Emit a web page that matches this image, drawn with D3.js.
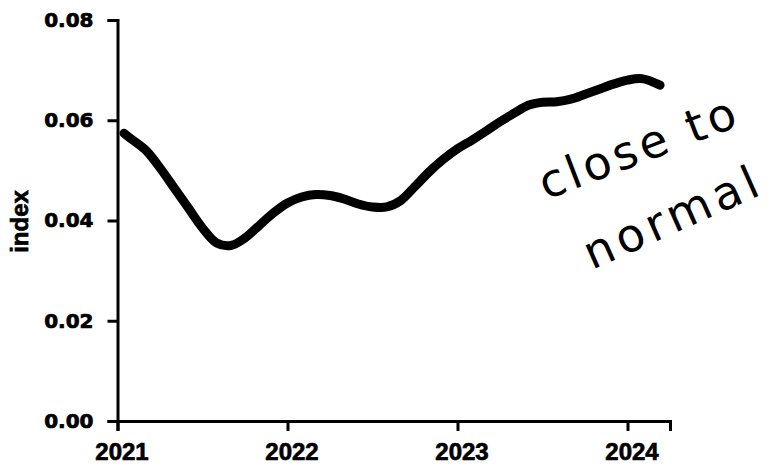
<!DOCTYPE html>
<html>
<head>
<meta charset="utf-8">
<script src="https://cdn.jsdelivr.net/npm/d3@7"></script>
<style>
  html, body { margin: 0; padding: 0; background: #fff; }
  svg { display: block; }
</style>
</head>
<body>
<svg id="chart" width="775" height="467"></svg>
<script>
// ---- data ----
const dates = [
  "2021-01-15","2021-02-01","2021-03-01","2021-04-01","2021-05-01","2021-06-01","2021-07-01","2021-08-01","2021-09-01","2021-10-01","2021-11-01","2021-12-01",
  "2022-01-01","2022-02-01","2022-03-01","2022-04-01","2022-05-01","2022-06-01","2022-07-01","2022-08-01","2022-09-01","2022-10-01","2022-11-01","2022-12-01",
  "2023-01-01","2023-02-01","2023-03-01","2023-04-01","2023-05-01","2023-06-01","2023-07-01","2023-08-01","2023-09-01","2023-10-01","2023-11-01","2023-12-01",
  "2024-01-01","2024-02-01","2024-03-10"
];
const indexValues = [
  0.0574,0.0562,0.0540,0.0505,0.0465,0.0425,0.0385,0.0355,0.0350,0.0365,0.0390,0.0415,
  0.0435,0.0447,0.0452,0.0450,0.0443,0.0433,0.0427,0.0427,0.0440,0.0468,0.0497,0.0522,
  0.0543,0.0560,0.0578,0.0597,0.0614,0.0630,0.0636,0.0637,0.0642,0.0652,0.0662,0.0672,
  0.0680,0.0683,0.0670
];
const yTicks = [0, 0.02, 0.04, 0.06, 0.08];
const xTicks = [2021, 2022, 2023, 2024];
const yLabel = "index";
const noteLines = ["close to", "normal"];

// ---- layout ----
const svg = d3.select("#chart");
const toYear = s => { const [yy, m, d] = s.split("-").map(Number); return yy + (m - 1) / 12 + (d - 1) / 365; };
const data = dates.map((s, i) => ({ t: toYear(s), v: indexValues[i] }));

const x = d3.scaleLinear().domain([2021, 2024.25]).range([117.5, 670]);
const y = d3.scaleLinear().domain([0, 0.08]).range([421, 20]);

const heavy = sel => sel
  .attr("fill", "#000")
  .attr("stroke", "#000")
  .attr("stroke-width", 0.7)
  .style("font-weight", "bold");

// y axis
const yAxis = svg.append("g")
  .attr("transform", `translate(${x(2021)},0)`)
  .call(d3.axisLeft(y).tickValues(yTicks).tickFormat(d3.format(".2f")).tickSizeOuter(0).tickSize(10).tickPadding(14));
yAxis.select(".domain").attr("stroke", "#000").attr("stroke-width", 3);
yAxis.selectAll(".tick line").attr("stroke", "#000").attr("stroke-width", 3);
yAxis.selectAll(".tick text")
  .call(heavy)
  .style("font-family", "'DejaVu Sans', sans-serif")
  .style("font-size", "20px");

// x axis
const xAxis = svg.append("g")
  .attr("transform", `translate(0,${y(0)})`)
  .call(d3.axisBottom(x).tickValues(xTicks).tickFormat(d3.format("d")).tickSizeOuter(0).tickSize(10).tickPadding(12));
xAxis.select(".domain").attr("stroke", "#000").attr("stroke-width", 3);
xAxis.selectAll(".tick line").attr("stroke", "#000").attr("stroke-width", 3);
xAxis.selectAll(".tick text")
  .call(heavy)
  .attr("dx", 4)
  .style("font-family", "'Liberation Sans', Arial, sans-serif")
  .style("font-size", "24px");

// y label
svg.append("text")
  .attr("transform", `translate(28,${(y(0.08) + y(0)) / 2 + 1}) rotate(-90)`)
  .attr("text-anchor", "middle")
  .call(heavy)
  .style("font-family", "'Liberation Sans', Arial, sans-serif")
  .style("font-size", "24px")
  .text(yLabel);

// line
const line = d3.line()
  .x(d => x(d.t))
  .y(d => y(d.v))
  .curve(d3.curveCatmullRom.alpha(0.5));
svg.append("path")
  .datum(data)
  .attr("d", line)
  .attr("fill", "none")
  .attr("stroke", "#000")
  .attr("stroke-width", 9)
  .attr("stroke-linecap", "round")
  .attr("stroke-linejoin", "round");

// handwritten-style note
const noteStyle = sel => sel
  .style("font-family", "'DejaVu Sans', sans-serif")
  .style("font-weight", "normal")
  .style("font-size", "46px")
  .style("letter-spacing", "4px")
  .attr("fill", "#000");
svg.append("text")
  .attr("transform", "translate(546,200) rotate(-21)")
  .call(noteStyle)
  .text(noteLines[0]);
svg.append("text")
  .attr("transform", "translate(592,270) rotate(-24)")
  .call(noteStyle)
  .style("letter-spacing", "5px")
  .text(noteLines[1]);
</script>
</body>
</html>
